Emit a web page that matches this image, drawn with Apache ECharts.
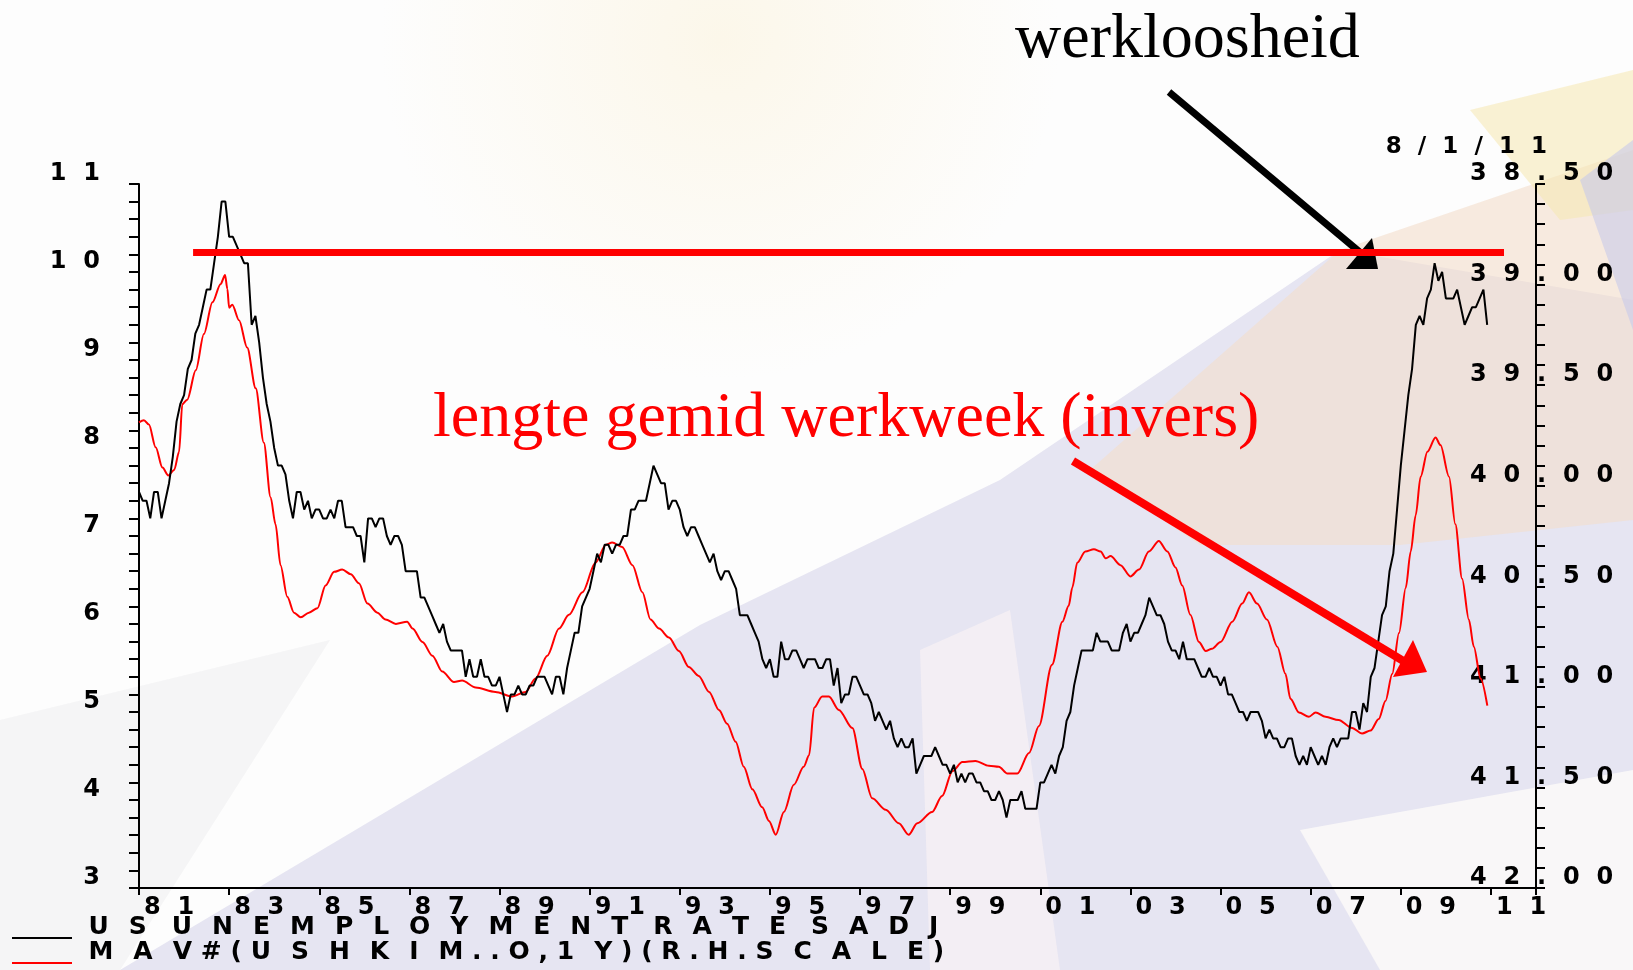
<!DOCTYPE html>
<html>
<head>
    <meta charset="utf-8">
    <title>werkloosheid vs lengte gemid werkweek</title>
    <script src="https://cdn.jsdelivr.net/npm/echarts@6/dist/echarts.min.js"></script>
    <style>
        html, body { margin: 0; padding: 0; background: #fff; }
        #chart { width: 1633px; height: 970px; }
    </style>
</head>
<body>
    <div id="chart"></div>
    <script>
        // --- data ---
        const baseYear = 1981;               // x axis starts jan 1981
        const xTickYears = [81, 83, 85, 87, 89, 91, 93, 95, 97, 99, 1, 3, 5, 7, 9, 11];
        const legendNames = ['US UNEMPLOYMENT RATE SADJ', 'MAV#(USHKIM..O,1Y)(R.H.SCALE)'];
        const lastDate = '8/1/11';

        // US unemployment rate, monthly, from jan of each block's first year (left axis)
        const unemp1980s = [
            7.5, 7.4, 7.4, 7.2, 7.5, 7.5, 7.2, 7.4, 7.6, 7.9, 8.3, 8.5,
            8.6, 8.9, 9.0, 9.3, 9.4, 9.6, 9.8, 9.8, 10.1, 10.4, 10.8, 10.8,
            10.4, 10.4, 10.3, 10.2, 10.1, 10.1, 9.4, 9.5, 9.2, 8.8, 8.5, 8.3,
            8.0, 7.8, 7.8, 7.7, 7.4, 7.2, 7.5, 7.5, 7.3, 7.4, 7.2, 7.3,
            7.3, 7.2, 7.2, 7.3, 7.2, 7.4, 7.4, 7.1, 7.1, 7.1, 7.0, 7.0,
            6.7, 7.2, 7.2, 7.1, 7.2, 7.2, 7.0, 6.9, 7.0, 7.0, 6.9, 6.6,
            6.6, 6.6, 6.6, 6.3, 6.3, 6.2, 6.1, 6.0, 5.9, 6.0, 5.8, 5.7,
            5.7, 5.7, 5.7, 5.4, 5.6, 5.4, 5.4, 5.6, 5.4, 5.4, 5.3, 5.3,
            5.4, 5.2, 5.0, 5.2, 5.2, 5.3, 5.2, 5.2, 5.3, 5.3, 5.4, 5.4
        ];
        const unemp1990s = [
            5.4, 5.3, 5.2, 5.4, 5.4, 5.2, 5.5, 5.7, 5.9, 5.9, 6.2, 6.3,
            6.4, 6.6, 6.8, 6.7, 6.9, 6.9, 6.8, 6.9, 6.9, 7.0, 7.0, 7.3,
            7.3, 7.4, 7.4, 7.4, 7.6, 7.8, 7.7, 7.6, 7.6, 7.3, 7.4, 7.4,
            7.3, 7.1, 7.0, 7.1, 7.1, 7.0, 6.9, 6.8, 6.7, 6.8, 6.6, 6.5,
            6.6, 6.6, 6.5, 6.4, 6.1, 6.1, 6.1, 6.0, 5.9, 5.8, 5.6, 5.5,
            5.6, 5.4, 5.4, 5.8, 5.6, 5.6, 5.7, 5.7, 5.6, 5.5, 5.6, 5.6,
            5.6, 5.5, 5.5, 5.6, 5.6, 5.3, 5.5, 5.1, 5.2, 5.2, 5.4, 5.4,
            5.3, 5.2, 5.2, 5.1, 4.9, 5.0, 4.9, 4.8, 4.9, 4.7, 4.6, 4.7,
            4.6, 4.6, 4.7, 4.3, 4.4, 4.5, 4.5, 4.5, 4.6, 4.5, 4.4, 4.4,
            4.3, 4.4, 4.2, 4.3, 4.2, 4.3, 4.3, 4.2, 4.2, 4.1, 4.1, 4.0
        ];
        const unemp2000s = [
            4.0, 4.1, 4.0, 3.8, 4.0, 4.0, 4.0, 4.1, 3.9, 3.9, 3.9, 3.9,
            4.2, 4.2, 4.3, 4.4, 4.3, 4.5, 4.6, 4.9, 5.0, 5.3, 5.5, 5.7,
            5.7, 5.7, 5.7, 5.9, 5.8, 5.8, 5.8, 5.7, 5.7, 5.7, 5.9, 6.0,
            5.8, 5.9, 5.9, 6.0, 6.1, 6.3, 6.2, 6.1, 6.1, 6.0, 5.8, 5.7,
            5.7, 5.6, 5.8, 5.6, 5.6, 5.6, 5.5, 5.4, 5.4, 5.5, 5.4, 5.4,
            5.3, 5.4, 5.2, 5.2, 5.1, 5.0, 5.0, 4.9, 5.0, 5.0, 5.0, 4.9,
            4.7, 4.8, 4.7, 4.7, 4.6, 4.6, 4.7, 4.7, 4.5, 4.4, 4.5, 4.4,
            4.6, 4.5, 4.4, 4.5, 4.4, 4.6, 4.7, 4.6, 4.7, 4.7, 4.7, 5.0,
            5.0, 4.8, 5.1, 5.0, 5.4, 5.5, 5.8, 6.1, 6.2, 6.6, 6.8, 7.3,
            7.8, 8.2, 8.6, 8.9, 9.4, 9.5, 9.4, 9.7, 9.8, 10.1, 9.9, 10.0,
            9.7, 9.7, 9.7, 9.8, 9.6, 9.4, 9.5, 9.6, 9.6, 9.7, 9.8, 9.4
        ];

        // 12m moving average of weekly hours (right axis, inverted)
        const hoursDate = [
            1981.00, 1981.11, 1981.22, 1981.37, 1981.52, 1981.65, 1981.78, 1981.89, 1981.96, 1982.07,
            1982.26, 1982.44, 1982.63, 1982.81, 1982.91, 1982.96, 1983.00, 1983.07, 1983.22, 1983.40,
            1983.59, 1983.77, 1983.92, 1984.03, 1984.14, 1984.29, 1984.44, 1984.59, 1984.77, 1984.96,
            1985.14, 1985.33, 1985.51, 1985.70, 1985.88, 1986.07, 1986.29, 1986.47, 1986.70, 1986.95,
            1987.07, 1987.29, 1987.51, 1987.73, 1987.99, 1988.17, 1988.47, 1988.91, 1989.28, 1989.58,
            1989.80, 1990.06, 1990.32, 1990.54, 1990.84, 1991.13, 1991.36, 1991.50, 1991.72, 1991.95,
            1992.17, 1992.35, 1992.54, 1992.76, 1992.98, 1993.20, 1993.42, 1993.65, 1993.87, 1994.05,
            1994.24, 1994.42, 1994.61, 1994.83, 1994.98, 1995.13, 1995.31, 1995.53, 1995.75, 1995.87,
            1995.98, 1996.16, 1996.31, 1996.53, 1996.83, 1997.05, 1997.27, 1997.57, 1997.86, 1998.08,
            1998.27, 1998.60, 1998.82, 1999.05, 1999.27, 1999.56, 1999.86, 2000.08, 2000.27, 2000.49,
            2000.75, 2000.97, 2001.26, 2001.49, 2001.63, 2001.71, 2001.82, 2002.00, 2002.19, 2002.34,
            2002.45, 2002.56, 2002.78, 2003.00, 2003.19, 2003.41, 2003.63, 2003.82, 2004.00, 2004.15,
            2004.33, 2004.52, 2004.67, 2004.81, 2005.00, 2005.26, 2005.48, 2005.63, 2005.81, 2006.03,
            2006.26, 2006.44, 2006.55, 2006.74, 2006.96, 2007.11, 2007.33, 2007.62, 2007.92, 2008.14,
            2008.33, 2008.51, 2008.66, 2008.81, 2008.96, 2009.11, 2009.22, 2009.33, 2009.44, 2009.59,
            2009.77, 2009.88, 2010.07, 2010.21, 2010.36, 2010.51, 2010.62, 2010.77, 2010.92
        ];
        const hoursAvg = [
            39.685, 39.674, 39.696, 39.809, 39.910, 39.949, 39.922, 39.831, 39.595, 39.572,
            39.426, 39.246, 39.088, 38.998, 38.953, 39.021, 39.115, 39.100, 39.178, 39.313,
            39.516, 39.786, 40.057, 40.192, 40.395, 40.552, 40.631, 40.654, 40.631, 40.609,
            40.496, 40.428, 40.417, 40.440, 40.485, 40.586, 40.631, 40.665, 40.687, 40.676,
            40.710, 40.777, 40.845, 40.924, 40.976, 40.969, 41.003, 41.025, 41.048, 41.025,
            40.958, 40.845, 40.710, 40.642, 40.530, 40.383, 40.293, 40.282, 40.305, 40.395,
            40.530, 40.665, 40.710, 40.755, 40.822, 40.901, 40.946, 41.025, 41.115, 41.183,
            41.273, 41.397, 41.509, 41.599, 41.667, 41.735, 41.622, 41.487, 41.397, 41.340,
            41.104, 41.048, 41.048, 41.115, 41.205, 41.408, 41.554, 41.611, 41.678, 41.735,
            41.678, 41.622, 41.543, 41.419, 41.374, 41.368, 41.392, 41.397, 41.431, 41.431,
            41.329, 41.194, 40.890, 40.676, 40.597, 40.507, 40.383, 40.327, 40.316, 40.327,
            40.361, 40.350, 40.395, 40.451, 40.417, 40.327, 40.275, 40.327, 40.406, 40.496,
            40.642, 40.777, 40.822, 40.811, 40.777, 40.676, 40.586, 40.530, 40.586, 40.665,
            40.800, 40.935, 41.059, 41.127, 41.149, 41.127, 41.149, 41.165, 41.205, 41.232,
            41.217, 41.160, 41.070, 40.935, 40.732, 40.507, 40.327, 40.147, 39.955, 39.831,
            39.760, 39.798, 39.955, 40.192, 40.462, 40.665, 40.800, 40.958, 41.093
        ];

        // red horizontal guide at the 2009 peak level (left axis units)
        const guideLevel = 10.23;
        const guideFrom = 1982.20;
        const guideTo = 2011.29;

        // --- helpers ---
        const FONT = 'DejaVu Sans';
        const SEP_AXIS = '\u2002\u2009';          // wide letter spacing of the old chart font
        const SEP_WIDE = '\u2002\u2009\u200A';
        const SEP_PUNCT = '\u2005\u200A';
        const spaced = (s, sep) => String(s).split('').join(sep);
        const isAlnum = c => /[A-Za-z0-9]/.test(c);
        // legend: wide gaps between letters, tighter round punctuation, em space between words
        const spacedLegend = name => name.split(' ').map(w => {
            let out = w[0];
            for (let i = 1; i < w.length; i++) {
                out += (isAlnum(w[i - 1]) && isAlnum(w[i]) ? SEP_WIDE : SEP_PUNCT) + w[i];
            }
            return out;
        }).join('\u2003');

        const unemployment = unemp1980s.concat(unemp1990s, unemp2000s);
        const unempData = unemployment.map((v, i) => [i / 12, v]);
        const hoursData = hoursDate.map((d, i) => [d - baseYear, hoursAvg[i]]);

        const chart = echarts.init(document.getElementById('chart'));

        // faint slide background
        const bg = [
            { pts: [[120, 970], [700, 625], [1000, 480], [1340, 250], [1633, 300], [1633, 970]], fill: 'rgba(222,220,238,0.75)' },
            { pts: [[1090, 470], [1340, 250], [1633, 150], [1633, 520], [1400, 545], [1200, 545]], fill: 'rgba(244,222,204,0.6)' },
            { pts: [[920, 650], [1010, 610], [1060, 970], [930, 970]], fill: 'rgba(246,240,244,0.8)' },
            { pts: [[1300, 830], [1633, 770], [1633, 970], [1380, 970]], fill: 'rgba(250,248,248,0.95)' },
            { pts: [[1470, 110], [1633, 70], [1633, 210], [1560, 220]], fill: 'rgba(246,232,176,0.55)' },
            { pts: [[1580, 180], [1633, 140], [1633, 330]], fill: 'rgba(200,202,234,0.6)' },
            { pts: [[0, 720], [330, 640], [120, 970], [0, 970]], fill: 'rgba(234,234,238,0.45)' }
        ];

        const graphics = bg.map(b => ({
            type: 'polygon', z: -10, silent: true,
            shape: { points: b.pts },
            style: { fill: b.fill }
        }));
        graphics.push({
            type: 'circle', z: -9, silent: true,
            shape: { cx: 720, cy: 40, r: 340 },
            style: {
                fill: {
                    type: 'radial', x: 0.5, y: 0.5, r: 0.5,
                    colorStops: [{ offset: 0, color: 'rgba(250,238,205,0.4)' }, { offset: 1, color: 'rgba(250,238,205,0)' }]
                }
            }
        });

        // annotations
        graphics.push(
            { type: 'line', z: 1, shape: { x1: 1169, y1: 92, x2: 1362, y2: 254 }, style: { stroke: '#000', lineWidth: 7 } },
            { type: 'polygon', z: 1, shape: { points: [[1346, 269], [1378, 269], [1372, 238]] }, style: { fill: '#000' } },
            { type: 'line', z: 10, shape: { x1: 1073, y1: 461, x2: 1405, y2: 662 }, style: { stroke: '#ff0000', lineWidth: 8 } },
            { type: 'polygon', z: 10, shape: { points: [[1393, 677], [1427, 672], [1413, 640]] }, style: { fill: '#ff0000' } },
            {
                type: 'text', z: 10, left: 1015, top: 8,
                style: { text: 'werkloosheid', font: '64px "Liberation Serif"', fill: '#000' }
            },
            {
                type: 'text', z: 10, left: 433, top: 387,
                style: { text: 'lengte gemid werkweek (invers)', font: '64px "Liberation Serif"', fill: '#ff0000' }
            },
            {
                type: 'text', z: 10, right: 86, top: 136,
                style: { text: spaced(lastDate, SEP_AXIS), font: 'bold 23px "' + FONT + '"', fill: '#000' }
            }
        );

        const axisCommon = {
            axisLine: { show: true, lineStyle: { color: '#000', width: 2 } },
            splitLine: { show: false },
            minorSplitLine: { show: false }
        };
        const labelFont = { fontFamily: FONT, fontSize: 24, fontWeight: 'bold', lineHeight: 20, color: '#000' };

        const option = {
            backgroundColor: '#fdfdfd',
            animation: false,
            grid: { left: 139, right: 97, top: 184, bottom: 82, containLabel: false },
            graphic: graphics,
            legend: {
                data: legendNames,
                orient: 'vertical',
                left: 12,
                top: 912,
                padding: 0,
                itemGap: -5,
                itemWidth: 61,
                itemHeight: 30,
                // sample line sits near the bottom of the row
                icon: 'path://M0,0L0,0M0,25L60,25L60,27L0,27ZM0,30L0,30',
                selectedMode: false,
                formatter: spacedLegend,
                textStyle: { fontFamily: FONT, fontSize: 25, fontWeight: 'bold', lineHeight: 25, color: '#000', padding: [0, 0, 0, 11] }
            },
            xAxis: Object.assign({
                type: 'value',
                min: 0,
                max: 31,
                interval: 2,
                axisTick: { show: true, length: 7, lineStyle: { color: '#000', width: 2 } },
                axisLabel: Object.assign({
                    align: 'left',
                    margin: 10,
                    padding: [0, 0, 0, 5],
                    formatter: v => {
                        const i = Math.round(v / 2);
                        return (v % 2 === 0 && i < xTickYears.length) ? spaced(String(xTickYears[i]).padStart(2, '0'), SEP_AXIS) : '';
                    }
                }, labelFont)
            }, axisCommon),
            yAxis: [
                Object.assign({
                    type: 'value',
                    position: 'left',
                    min: 3,
                    max: 11,
                    interval: 1,
                    axisTick: { show: true, length: 10, lineStyle: { color: '#000', width: 2 } },
                    minorTick: { show: true, splitNumber: 5, length: 10, lineStyle: { color: '#000', width: 2 } },
                    axisLabel: Object.assign({
                        margin: 39,
                        verticalAlign: 'bottom',
                        formatter: v => spaced(String(v), SEP_AXIS)
                    }, labelFont)
                }, axisCommon),
                Object.assign({
                    type: 'value',
                    position: 'right',
                    inverse: true,
                    min: 38.5,
                    max: 42,
                    interval: 0.5,
                    axisTick: { show: true, length: 9, lineStyle: { color: '#000', width: 2 } },
                    minorTick: { show: true, splitNumber: 5, length: 9, lineStyle: { color: '#000', width: 2 } },
                    axisLabel: Object.assign({
                        margin: -66,
                        verticalAlign: 'bottom',
                        formatter: v => spaced(v.toFixed(2), SEP_AXIS)
                    }, labelFont)
                }, axisCommon)
            ],
            series: [
                {
                    name: legendNames[1],
                    type: 'line',
                    yAxisIndex: 1,
                    data: hoursData,
                    showSymbol: false,
                    smooth: 0.3,
                    smoothMonotone: 'x',
                    lineStyle: { color: '#ff0000', width: 2 },
                    itemStyle: { color: '#ff0000' }
                },
                {
                    name: legendNames[0],
                    type: 'line',
                    yAxisIndex: 0,
                    data: unempData,
                    showSymbol: false,
                    lineStyle: { color: '#000', width: 2 },
                    itemStyle: { color: '#000' },
                    markLine: {
                        silent: true,
                        symbol: ['none', 'none'],
                        label: { show: false },
                        lineStyle: { color: '#ff0000', width: 7, type: 'solid' },
                        data: [[
                            { coord: [guideFrom - baseYear, guideLevel] },
                            { coord: [guideTo - baseYear, guideLevel] }
                        ]]
                    }
                }
            ]
        };

        chart.setOption(option);
    </script>
</body>
</html>
